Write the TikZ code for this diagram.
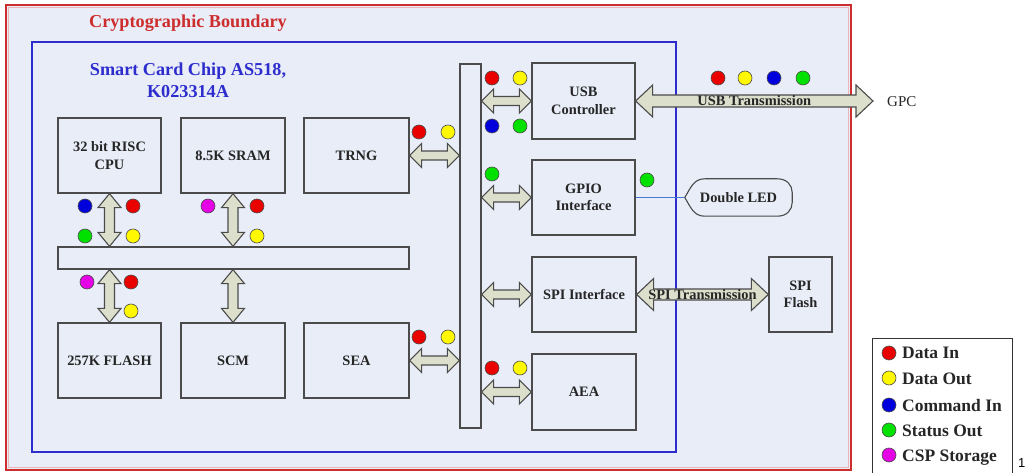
\documentclass[tikz,border=0pt]{standalone}
\usepackage{fontspec}
\setmainfont{Liberation Serif}
\newfontfamily\sansf{Liberation Sans}
\usetikzlibrary{calc}

\definecolor{bgblue}{RGB}{232,237,248}
\definecolor{bred}{RGB}{205,45,45}
\definecolor{bblue}{RGB}{45,45,205}
\definecolor{arrfill}{RGB}{221,223,205}
\definecolor{edge}{RGB}{75,75,75}
\definecolor{dred}{RGB}{235,0,0}
\definecolor{dyellow}{RGB}{255,248,0}
\definecolor{dblue}{RGB}{0,0,220}
\definecolor{dgreen}{RGB}{0,225,0}
\definecolor{dmagenta}{RGB}{230,0,230}
\definecolor{ledline}{RGB}{70,120,210}

\newcommand{\boxfont}{\bfseries\fontsize{14.4}{17.5}\selectfont}
\newcommand{\keyfont}{\bfseries\fontsize{17.5}{20}\selectfont}
\newcommand{\titlefont}{\bfseries\fontsize{18.2}{22}\selectfont}
\newcommand{\gpcfont}{\fontsize{15}{17}\selectfont}

\tikzset{
	blk/.style={draw=edge, line width=1.3pt, minimum width=103pt, minimum height=75pt, align=center, font=\boxfont, text=black!85, inner sep=0pt},
	bus/.style={draw=edge, line width=1.3pt, inner sep=0pt},
	fatarr/.style={draw=edge, fill=arrfill, line width=1.1pt, line join=miter},
	dot/.style={draw=black!70, line width=0.6pt},
	keytext/.style={anchor=base west, font=\keyfont, text=black!85, inner sep=0pt},
}

% from, to, head length, head half width, shaft half width
\newcommand{\fatarrow}[5]{%
	\draw [fatarr] (#1)
		-- ($(#1)!#3!(#2)!#4!90:(#2)$)
		-- ($(#1)!#3!(#2)!#5!90:(#2)$)
		-- ($(#2)!#3!(#1)!#5!-90:(#1)$)
		-- ($(#2)!#3!(#1)!#4!-90:(#1)$)
		-- (#2)
		-- ($(#2)!#3!(#1)!#4!90:(#1)$)
		-- ($(#2)!#3!(#1)!#5!90:(#1)$)
		-- ($(#1)!#3!(#2)!#5!-90:(#2)$)
		-- ($(#1)!#3!(#2)!#4!-90:(#2)$)
		-- cycle;}

\begin{document}
\begin{tikzpicture}[x=1pt, y=-1pt]
	\useasboundingbox (0,0) rectangle (1029,473);

	% boundaries
	\draw [bred, line width=1.2pt, fill=bgblue] (6,5) rectangle (851,470);
	\draw [bred!35, line width=0.8pt] (8.5,7.5) rectangle (848.5,467.5);
	\draw [bblue, line width=1.2pt] (32,42) rectangle (676,452);
	\node [text=bred, font=\titlefont] (bound) at (188,23) {Cryptographic Boundary};
	\node [text=bblue, font=\titlefont, align=center] (chip) at (188,80) {Smart Card Chip AS518,\\K023314A};

	% blocks
	\node [blk] (cpu) at (109.5,155.5) {32 bit RISC\\CPU};
	\node [blk, minimum width=104pt] (sram) at (233,155.5) {8.5K SRAM};
	\node [blk, minimum width=105pt] (trng) at (356.5,155.5) {TRNG};
	\node [bus, minimum width=351pt, minimum height=22pt] (hbus) at (233.5,258) {};
	\node [blk] (flash) at (109.5,360.5) {257K FLASH};
	\node [blk, minimum width=104pt] (scm) at (233,360.5) {SCM};
	\node [blk, minimum width=105pt] (sea) at (356.5,360.5) {SEA};
	\node [bus, minimum width=21pt, minimum height=364pt] (vbus) at (470.5,246) {};
	\node [blk, minimum height=76pt] (usb) at (583.5,101) {USB\\Controller};
	\node [blk] (gpio) at (583.5,197.5) {GPIO\\Interface};
	\node [blk, minimum width=104pt] (spi) at (584,294.5) {SPI Interface};
	\node [blk, minimum width=104pt, minimum height=76pt] (aea) at (584,392) {AEA};
	\node [blk, minimum width=63pt] (spif) at (800.5,294.5) {SPI\\Flash};
	\node [font=\boxfont, text=black!85, minimum width=107pt, minimum height=37pt, inner sep=0pt] (led) at (738.5,197.5) {Double LED};
	\node [font=\gpcfont, text=black!85, anchor=west, inner sep=0pt] (gpc) at (887,102) {GPC};
	\coordinate (gpctip) at ([xshift=-14pt]gpc.west |- usb.east);

	% double LED outline
	\draw [ledline, line width=0.8pt] (gpio.east) -- (led.west);
	\draw [edge, line width=1.1pt] (led.west) .. controls +(6,-10) and +(-11,0) .. ([xshift=20pt]led.north west)
		-- ([xshift=-15pt]led.north east) .. controls +(10,0) and +(0,-7) .. ([yshift=5pt]led.east)
		-- ([yshift=-5pt]led.east) .. controls +(0,7) and +(10,0) .. ([xshift=-15pt]led.south east)
		-- ([xshift=20pt]led.south west) .. controls +(-11,0) and +(6,10) .. (led.west);

	% buses
	\fatarrow{cpu.south}{cpu.south |- hbus.north}{14pt}{11.5pt}{5pt}
	\fatarrow{sram.south}{sram.south |- hbus.north}{14pt}{11.5pt}{5pt}
	\fatarrow{flash.north |- hbus.south}{flash.north}{14pt}{11.5pt}{5pt}
	\fatarrow{scm.north |- hbus.south}{scm.north}{14pt}{11.5pt}{5pt}
	\fatarrow{trng.east}{trng.east -| vbus.west}{12pt}{12pt}{4.5pt}
	\fatarrow{sea.east}{sea.east -| vbus.west}{12pt}{12pt}{4.5pt}
	\fatarrow{usb.west -| vbus.east}{usb.west}{12pt}{12pt}{4.5pt}
	\fatarrow{gpio.west -| vbus.east}{gpio.west}{12pt}{12pt}{4.5pt}
	\fatarrow{spi.west -| vbus.east}{spi.west}{12pt}{12pt}{4.5pt}
	\fatarrow{aea.west -| vbus.east}{aea.west}{12pt}{12pt}{4.5pt}
	\fatarrow{usb.east}{gpctip}{17pt}{16pt}{6pt}
	\fatarrow{spi.east}{spif.west}{17pt}{16pt}{5.5pt}
	\node [font=\boxfont, text=black!85, inner sep=0pt] (usbt) at ($(usb.east)!0.5!(gpctip)$) {USB Transmission};
	\node [font=\boxfont, text=black!85, inner sep=0pt] (spit) at ($(spi.east)!0.5!(spif.west)$) {SPI Transmission};

	% data dots
	\foreach \px/\py/\c in {85/206/dblue, 133/206/dred, 85/236/dgreen, 133/236/dyellow,
		208/206/dmagenta, 257/206/dred, 257/236/dyellow,
		87/282/dmagenta, 131/282/dred, 131/311/dyellow,
		419/132/dred, 448/132/dyellow, 419/337/dred, 448/337/dyellow,
		492/78/dred, 520/78/dyellow, 492/126/dblue, 520/126/dgreen,
		492/174/dgreen, 647/180/dgreen,
		718/78/dred, 745/78/dyellow, 774/78/dblue, 803/78/dgreen,
		492/368/dred, 520/368/dyellow}
		\draw [dot, fill=\c] (\px,\py) circle (7pt);

	% key
	\draw [black!80, line width=1pt, fill=white] (872,339) rectangle (1012,476);
	\foreach \ly/\lc/\lt in {353/dred/Data In, 378/dyellow/Data Out, 405/dblue/Command In, 430/dgreen/Status Out, 455/dmagenta/CSP Storage} {
		\draw [dot, fill=\lc] (889,\ly) circle (7pt);
		\node [keytext] (key\lc) at (902,\ly+6) {\lt};
	}
	\node [font=\sansf\fontsize{13}{15}\selectfont, anchor=west, inner sep=0pt] (pg) at (1018,463) {1};
\end{tikzpicture}
\end{document}
